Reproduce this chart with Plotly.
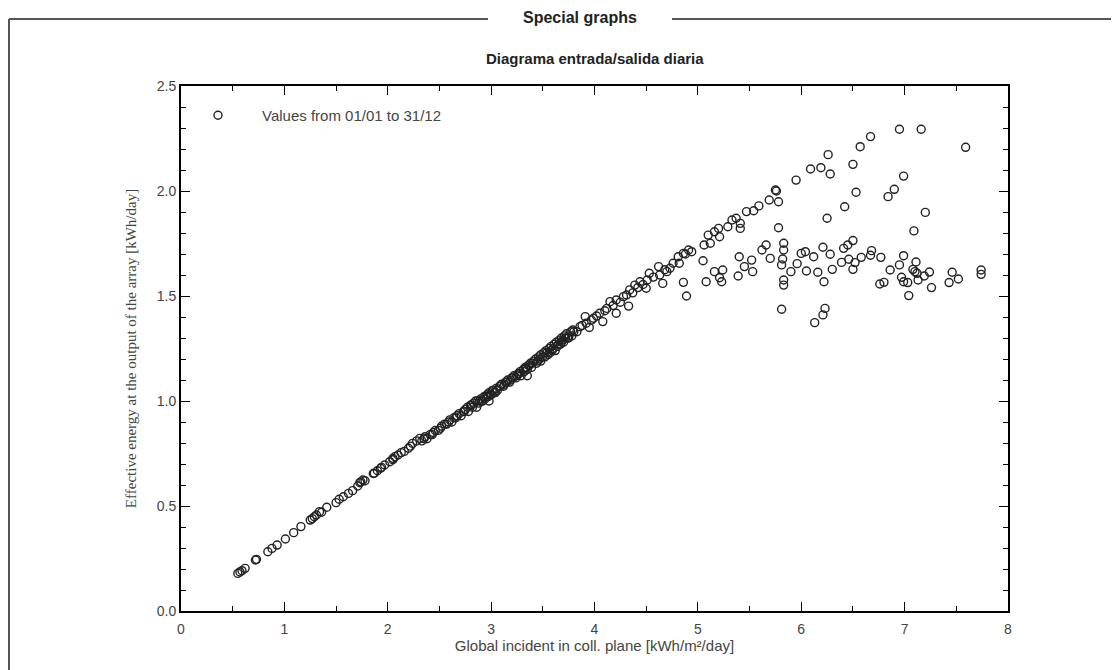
import plotly.graph_objects as go

# Daily values
# x: global incident irradiation in collector plane [kWh/m²/day]
# y: effective energy at the output of the array [kWh/day]
low_x = [0.55, 0.57, 0.59, 0.62, 0.72, 0.73, 0.84, 0.88, 0.93, 1.01, 1.09, 1.16, 1.25, 1.27,
         1.29, 1.31, 1.34, 1.36, 1.41, 1.50, 1.53, 1.57, 1.62, 1.66, 1.71, 1.73, 1.74, 1.76,
         1.78, 1.86, 1.87, 1.90, 1.93, 1.94, 1.97, 2.02, 2.05, 2.05, 2.07, 2.10, 2.13, 2.16,
         2.20, 2.22, 2.24, 2.28, 2.31]
low_y = [0.179, 0.186, 0.192, 0.203, 0.243, 0.246, 0.282, 0.298, 0.314, 0.343, 0.373, 0.402,
         0.433, 0.440, 0.449, 0.457, 0.473, 0.470, 0.494, 0.516, 0.532, 0.544, 0.560, 0.573,
         0.595, 0.611, 0.615, 0.624, 0.620, 0.655, 0.656, 0.668, 0.680, 0.684, 0.695, 0.711,
         0.727, 0.720, 0.735, 0.743, 0.754, 0.760, 0.775, 0.785, 0.798, 0.810, 0.822]

mid_x = [2.33, 2.36, 2.38, 2.41, 2.44, 2.46, 2.49, 2.52, 2.55, 2.57, 2.60, 2.62, 2.64, 2.67,
         2.69, 2.71, 2.73, 2.75, 2.77, 2.78, 2.80, 2.82, 2.83, 2.85, 2.86, 2.87, 2.88, 2.90,
         2.91, 2.93, 2.94, 2.96, 2.97, 2.98, 2.98, 3.00, 3.01, 3.03, 3.05, 3.06, 3.08, 3.10,
         3.12, 3.14, 3.16, 3.18, 3.20, 3.22, 3.24, 3.26, 3.28, 3.29, 3.31, 3.33, 3.35, 3.35,
         3.36, 3.38, 3.39, 3.41, 3.43, 3.45, 3.46, 3.48, 3.48, 3.50, 3.51, 3.53, 3.55, 3.56,
         3.58, 3.60, 3.61, 3.62, 3.63, 3.65, 3.66, 3.68, 3.68, 3.70, 3.71, 3.72, 3.73, 3.75,
         3.75, 3.77, 3.78, 3.80, 3.83,
         2.35, 2.43, 2.51, 2.59, 2.66, 2.74, 2.81, 2.89, 2.95, 3.02, 3.09, 3.15, 3.21, 3.27,
         3.34, 3.40, 3.47, 3.54, 3.59, 3.64, 3.69, 3.74,
         2.92, 2.99, 3.04, 3.13, 3.19, 3.25, 3.32, 3.37, 3.44, 3.52, 3.57, 3.67]
mid_y = [0.81, 0.83, 0.82, 0.84, 0.85, 0.86, 0.86, 0.88, 0.89, 0.89, 0.91, 0.90, 0.92, 0.93,
         0.94, 0.93, 0.95, 0.96, 0.97, 0.95, 0.98, 0.97, 0.99, 1.00, 0.97, 1.00, 0.99, 1.01,
         1.00, 1.02, 1.01, 1.03, 1.02, 1.04, 1.00, 1.03, 1.05, 1.04, 1.06, 1.05, 1.07, 1.08,
         1.07, 1.09, 1.10, 1.09, 1.11, 1.12, 1.11, 1.13, 1.14, 1.12, 1.15, 1.16, 1.15, 1.12,
         1.17, 1.18, 1.16, 1.19, 1.20, 1.19, 1.21, 1.22, 1.19, 1.21, 1.23, 1.24, 1.22, 1.25,
         1.26, 1.25, 1.27, 1.24, 1.28, 1.27, 1.29, 1.30, 1.28, 1.28, 1.31, 1.30, 1.32, 1.30,
         1.31, 1.33, 1.31, 1.33, 1.33,
         0.82, 0.84, 0.87, 0.90, 0.92, 0.95, 0.98, 1.00, 1.02, 1.05, 1.07, 1.09, 1.11, 1.13,
         1.16, 1.18, 1.20, 1.23, 1.24, 1.26, 1.29, 1.30,
         1.00, 1.03, 1.04, 1.08, 1.10, 1.12, 1.14, 1.17, 1.18, 1.21, 1.23, 1.27]

line_x = [3.79, 3.86, 3.91, 3.92, 3.95, 3.99, 4.05, 4.08, 4.12, 4.15, 4.21, 4.21, 4.28, 4.33,
          4.34, 4.39, 4.44, 4.50, 4.51, 4.53, 4.62, 4.63, 4.66, 4.70, 4.73, 4.76, 4.81, 4.82,
          4.86, 4.91, 4.94, 5.06, 5.10, 5.12, 5.16, 5.20, 5.21, 5.29, 5.33, 5.37, 5.41, 5.41,
          5.47, 5.54, 5.59, 5.69, 5.75, 5.76, 5.78,
          3.88, 3.97, 4.02, 4.10, 4.18, 4.25, 4.31, 4.37, 4.42, 4.47, 4.57, 4.68, 4.88]
line_y = [1.338, 1.354, 1.402, 1.370, 1.350, 1.394, 1.418, 1.378, 1.441, 1.473, 1.481, 1.418,
          1.497, 1.452, 1.529, 1.552, 1.568, 1.537, 1.576, 1.608, 1.640, 1.600, 1.560, 1.616,
          1.632, 1.656, 1.687, 1.656, 1.703, 1.719, 1.711, 1.743, 1.790, 1.751, 1.806, 1.822,
          1.782, 1.830, 1.862, 1.870, 1.846, 1.822, 1.902, 1.906, 1.929, 1.957, 2.005, 2.000,
          1.949,
          1.360, 1.385, 1.405, 1.430, 1.455, 1.470, 1.505, 1.515, 1.540, 1.555, 1.590, 1.625,
          1.700]

spread_x = [5.66, 5.62, 5.70, 5.40, 5.52, 5.45, 5.53, 5.39, 5.16, 5.24, 5.21, 5.23, 5.08,
            5.05, 4.86, 4.89, 5.78,
            6.95, 7.16, 7.59, 6.67, 6.57, 6.26, 6.09, 6.19, 6.28, 6.50, 5.95, 6.99, 6.53, 6.90,
            6.84, 6.42, 6.25, 7.20, 7.09, 5.83, 5.83, 5.82, 5.81, 5.83, 5.83, 5.81, 6.00, 6.04,
            6.12, 6.21, 6.28, 5.96, 5.90, 6.05, 6.16, 6.22, 6.30, 6.39, 6.41, 6.45, 6.50, 6.46,
            6.50, 6.52, 6.58, 6.67, 6.68, 6.77, 6.23, 6.21, 6.13, 6.76, 6.80, 6.86, 6.95, 6.99,
            6.97, 6.99, 7.03, 7.08, 7.11, 7.10, 7.12, 7.13, 7.19, 7.24, 7.04, 7.26, 7.43, 7.46,
            7.52, 7.74, 7.74]
spread_y = [1.743, 1.719, 1.679, 1.687, 1.671, 1.640, 1.616, 1.595, 1.616, 1.624, 1.587, 1.568,
            1.568, 1.668, 1.565, 1.500, 1.825,
            2.294, 2.294, 2.208, 2.259, 2.211, 2.173, 2.105, 2.111, 2.081, 2.127, 2.052, 2.071,
            1.994, 2.008, 1.973, 1.925, 1.870, 1.898, 1.810, 1.751, 1.719, 1.676, 1.648, 1.576,
            1.552, 1.437, 1.703, 1.711, 1.687, 1.732, 1.699, 1.654, 1.616, 1.619, 1.613, 1.568,
            1.627, 1.660, 1.727, 1.743, 1.764, 1.675, 1.627, 1.659, 1.684, 1.694, 1.716, 1.684,
            1.441, 1.410, 1.373, 1.557, 1.565, 1.624, 1.648, 1.692, 1.589, 1.568, 1.564, 1.627,
            1.662, 1.616, 1.608, 1.576, 1.595, 1.614, 1.502, 1.540, 1.564, 1.613, 1.581, 1.624,
            1.603]

global_incident = low_x + mid_x + line_x + spread_x
effective_energy = low_y + mid_y + line_y + spread_y

series_name = "Values from 01/01 to 31/12"
x_tick_values = [0, 1, 2, 3, 4, 5, 6, 7, 8]
y_tick_values = [0.0, 0.5, 1.0, 1.5, 2.0, 2.5]

# Page layout (the page body adds an 8 px offset around the figure)
PLOT_L, PLOT_T, PLOT_W, PLOT_H = 181, 86, 827, 525


def px_x(p):
    return (p - PLOT_L) / PLOT_W


def px_y(p):
    return (PLOT_T + PLOT_H - p) / PLOT_H


fig = go.Figure()
fig.add_trace(go.Scatter(
    x=global_incident, y=effective_energy, mode="markers", name=series_name,
    marker=dict(symbol="circle-open", size=8, color="#222", line=dict(width=1.4)),
    showlegend=True,
))

axis_common = dict(
    showline=True, linewidth=2, linecolor="black", mirror="allticks",
    ticks="inside", tickcolor="black", tickwidth=1.3, showgrid=False, zeroline=False,
    tickfont=dict(family="Liberation Sans, Arial", size=14, color="#444"),
)

fig.update_xaxes(
    range=[0, 8], tickvals=x_tick_values, ticklen=9, ticklabelstandoff=4,
    minor=dict(dtick=0.5, ticks="inside", ticklen=5, tickcolor="black", tickwidth=1.2),
    title=dict(text="Global incident in coll. plane [kWh/m²/day]",
               font=dict(family="Liberation Sans, Arial", size=15, color="#444"), standoff=5),
    **axis_common,
)
fig.update_yaxes(
    range=[0, 2.5], tickvals=y_tick_values, tickformat=".1f", ticklen=9,
    minor=dict(dtick=0.1, ticks="inside", ticklen=5, tickcolor="black", tickwidth=1.2),
    title=dict(text="Effective energy at the output of the array [kWh/day]",
               font=dict(family="Liberation Serif, Times New Roman", size=15, color="#444"),
               standoff=16),
    **axis_common,
)

frame = dict(type="line", xref="paper", yref="paper", line=dict(color="#555", width=2))
fig.update_layout(
    width=1111, height=662,
    margin=dict(l=173, r=111, t=78, b=59),
    plot_bgcolor="white", paper_bgcolor="white",
    legend=dict(x=px_x(174), y=px_y(99), xanchor="left", yanchor="top",
                bgcolor="rgba(0,0,0,0)", itemwidth=78,
                font=dict(family="Liberation Sans, Arial", size=15, color="#444")),
    annotations=[
        dict(text="<b>Diagrama entrada/salida diaria</b>", xref="paper", yref="paper",
             x=0.5, y=px_y(58), showarrow=False, xanchor="center", yanchor="middle",
             font=dict(family="Liberation Sans, Arial", size=15, color="#222")),
        dict(text="<b>Special graphs</b>", xref="paper", yref="paper",
             x=px_x(580), y=px_y(18), showarrow=False,
             xanchor="center", yanchor="middle",
             font=dict(family="Liberation Sans, Arial", size=16, color="#222")),
    ],
    shapes=[
        dict(frame, x0=px_x(9), x1=px_x(9), y0=px_y(19), y1=px_y(680)),
        dict(frame, x0=px_x(9), x1=px_x(488), y0=px_y(19), y1=px_y(19)),
        dict(frame, x0=px_x(672), x1=px_x(1125), y0=px_y(19), y1=px_y(19)),
    ],
)

fig.write_html("out.html")
